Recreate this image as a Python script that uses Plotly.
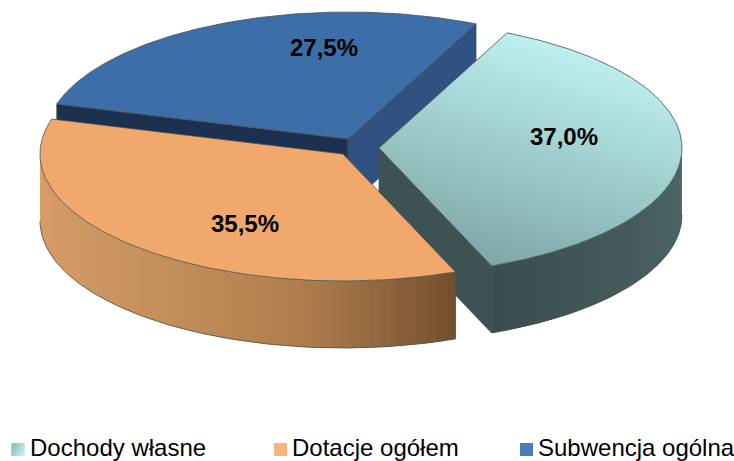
import numpy as np
import plotly.graph_objects as go

# Data
categories = ["Dochody własne", "Dotacje ogółem", "Subwencja ogólna"]
values = [37.0, 35.5, 27.5]

# Look of the fake 3D pie (pixel-space layout constants)
W, H = 734, 461
RX, RY, DEPTH = 303.0, 127.0, 67.0
START_DEG = 25.0
APEX = [(379, 148), (343, 154), (348, 139)]
LABEL_POS = [(564, 136), (245, 223), (324, 47)]
EDGE = "#4a5050"
LEGEND_SWATCH_X = [18, 280.5, 526.5]
LEGEND_TEXT_X = [29, 291, 537]
LEGEND_Y = 449.5
LEGEND_TEXT_Y = 447
SWATCH_HALF = 6.5


def mix(c1, c2, t):
    a = [int(c1[i:i + 2], 16) for i in (1, 3, 5)]
    b = [int(c2[i:i + 2], 16) for i in (1, 3, 5)]
    return "rgb(%d,%d,%d)" % tuple(round(p + (q - p) * t) for p, q in zip(a, b))


def rim(ap, a0, a1, n=120):
    t = np.radians(np.linspace(a0, a1, n))
    return ap[0] + RX * np.sin(t), ap[1] - RY * np.cos(t)


fig = go.Figure()


def poly(xs, ys, fill, line=None, lw=0.6):
    fig.add_trace(go.Scatter(x=list(xs), y=list(ys), mode="lines", fill="toself",
                             fillcolor=fill, line=dict(color=line or fill, width=lw),
                             hoverinfo="skip", showlegend=False))


def outline(xs, ys):
    fig.add_trace(go.Scatter(x=list(xs), y=list(ys), mode="lines",
                             line=dict(color=EDGE, width=0.8),
                             hoverinfo="skip", showlegend=False))


def clip(pts, d, lo, hi):
    def half(P, sign, lim):
        out = []
        for i in range(len(P)):
            a, b = P[i], P[(i + 1) % len(P)]
            fa = sign * (a @ d - lim)
            fb = sign * (b @ d - lim)
            if fa >= 0:
                out.append(a)
            if fa * fb < 0:
                out.append(a + (b - a) * fa / (fa - fb))
        return out
    P = half(list(pts), 1, lo)
    if P:
        P = half(P, -1, hi)
    return P


def gradient_top(xs, ys, direction, c1, c2, bands=40):
    pts = np.column_stack([xs, ys])
    d = np.array(direction, float)
    d /= np.linalg.norm(d)
    pr = pts @ d
    edges = np.linspace(pr.min(), pr.max(), bands + 1)
    for i in range(bands):
        hi = edges[min(i + 2, bands)]
        P = clip(pts, d, edges[i], hi)
        if len(P) > 2:
            P = np.array(P)
            poly(P[:, 0], P[:, 1], mix(c1, c2, i / (bands - 1)), lw=0)


def side_wall(ap, a0, a1, stops, bands=60):
    ang = np.linspace(a0, a1, bands + 1)
    for i in range(bands):
        x, y = rim(ap, ang[i], ang[min(i + 2, bands)], 5)
        t = i / (bands - 1) * (len(stops) - 1)
        k = min(int(t), len(stops) - 2)
        poly(np.r_[x, x[::-1]], np.r_[y, y[::-1] + DEPTH],
             mix(stops[k], stops[k + 1], t - k), lw=0)
    x, y = rim(ap, a0, a1)
    outline(x, y + DEPTH)


spans = [v / sum(values) * 360 for v in values]
angles = START_DEG + np.r_[0, np.cumsum(spans)]
teal = (angles[0], angles[1])
orange = (angles[1], angles[2])
blue = (angles[2], angles[3])


def flat_wall(ap, ang, color):
    x, y = rim(ap, ang, ang, 1)
    xs = [ap[0], x[0], x[0], ap[0], ap[0]]
    ys = [ap[1], y[0], y[0] + DEPTH, ap[1] + DEPTH, ap[1]]
    poly(xs, ys, color, EDGE, 0.7)


def top_path(ap, a0, a1):
    x, y = rim(ap, a0, a1, 200)
    return np.r_[ap[0], x, ap[0]], np.r_[ap[1], y, ap[1]]


# blue (rear)
flat_wall(APEX[2], blue[0], "#1c3050")
flat_wall(APEX[2], blue[1], "#2f5282")
bx, by = top_path(APEX[2], *blue)
poly(bx, by, "#3e6ea8", EDGE, 0.8)

# teal (right)
flat_wall(APEX[0], teal[1], "#3d5252")
side_wall(APEX[0], 90, teal[1], ["#4e6868", "#465c5c", "#3a4e4e"])
tx, ty = top_path(APEX[0], *teal)
gradient_top(tx, ty, (-0.3, 1), "#bcefee", "#7fa8a8")
outline(tx, ty)

# orange (front)
side_wall(APEX[1], orange[0], 270, ["#75502f", "#ae7c4c", "#c48e5a", "#d09863", "#d89e68"])
x0, y0 = rim(APEX[1], orange[0], orange[0], 1)
outline([x0[0], x0[0]], [y0[0], y0[0] + DEPTH])
ox, oy = top_path(APEX[1], *orange)
poly(ox, oy, "#f0a86d", EDGE, 0.8)

# data labels
for v, (lx, ly) in zip(values, LABEL_POS):
    fig.add_annotation(x=lx, y=ly, text="<b>%s%%</b>" % f"{v:.1f}".replace(".", ","),
                       showarrow=False, font=dict(family="Liberation Sans", size=24, color="black"))

# legend entries
swatches = [("#84bcbc", "#c8f2f0"), ("#fbb57a", "#fbb57a"), ("#4a7ebb", "#4a7ebb")]
for name, sx, lx, (c1, c2) in zip(categories, LEGEND_SWATCH_X, LEGEND_TEXT_X, swatches):
    a, b = sx - SWATCH_HALF, sx + SWATCH_HALF
    c, d = LEGEND_Y - SWATCH_HALF, LEGEND_Y + SWATCH_HALF
    gradient_top([a, b, b, a, a], [c, c, d, d, c], (1, 0.6), c1, c2, bands=8)
    fig.add_annotation(x=lx, y=LEGEND_TEXT_Y, text=name, showarrow=False, xanchor="left",
                       borderpad=0,
                       font=dict(family="Liberation Sans", size=24, color="black"))

fig.update_layout(
    width=W, height=H, margin=dict(l=0, r=0, t=0, b=0),
    paper_bgcolor="white", plot_bgcolor="white", showlegend=False,
    xaxis=dict(range=[0, W], visible=False, fixedrange=True),
    yaxis=dict(range=[H, 0], visible=False, fixedrange=True),
)
fig.write_html("out.html", config={"displayModeBar": False},
               post_script="document.body.style.margin='0';")
